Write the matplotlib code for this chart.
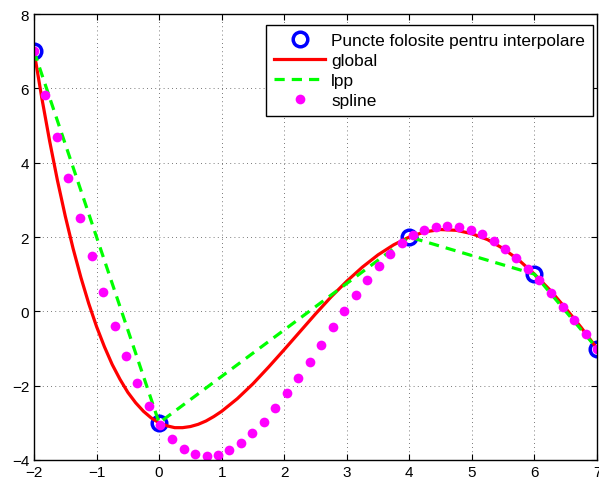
import matplotlib

matplotlib.use("Agg")
import matplotlib.pyplot as plt  # noqa: E402

plt.rcParams["font.family"] = ["Liberation Sans", "DejaVu Sans"]

# interpolation nodes
node_x = [-2, 0, 4, 6, 7]
node_y = [7, -3, 2, 1, -1]

# global polynomial
glob_x = [-2.0, -1.875, -1.75, -1.625, -1.5, -1.375, -1.25, -1.125, -1.0,
          -0.875, -0.75, -0.625, -0.5, -0.375, -0.25, -0.125, 0.0, 0.125,
          0.25, 0.375, 0.5, 0.625, 0.75, 0.875, 1.0, 1.25, 1.5, 1.75, 2.0,
          2.25, 2.5, 2.75, 3.0, 3.25, 3.5, 3.75, 4.0, 4.25, 4.5, 4.75, 5.0,
          5.25, 5.5, 5.75, 6.0, 6.25, 6.5, 6.75, 7.0]
glob_y = [7.0, 5.74, 4.58, 3.52, 2.56, 1.69, 0.91, 0.21, -0.41, -0.95,
          -1.43, -1.83, -2.18, -2.46, -2.69, -2.87, -3.0, -3.08, -3.13, -3.13,
          -3.10, -3.04, -2.95, -2.83, -2.69, -2.35, -1.95, -1.50, -1.03,
          -0.55, -0.07, 0.39, 0.81, 1.19, 1.52, 1.79, 2.0, 2.14, 2.20, 2.18,
          2.09, 1.93, 1.69, 1.38, 1.0, 0.57, 0.08, -0.44, -1.0]

# spline samples (magenta dots)
spl_x = [-2.0, -1.82, -1.63, -1.45, -1.27, -1.08, -0.9, -0.71, -0.53, -0.35,
         -0.16, 0.02, 0.2, 0.39, 0.57, 0.76, 0.94, 1.12, 1.31, 1.49, 1.67,
         1.86, 2.04, 2.22, 2.41, 2.59, 2.78, 2.96, 3.14, 3.33, 3.51, 3.69,
         3.88, 4.06, 4.24, 4.43, 4.61, 4.8, 4.98, 5.16, 5.35, 5.53, 5.71,
         5.9, 6.08, 6.27, 6.45, 6.63, 6.82, 7.0]
spl_y = [7.0, 5.82, 4.70, 3.58, 2.51, 1.48, 0.51, -0.40, -1.21, -1.93, -2.55,
         -3.05, -3.43, -3.70, -3.85, -3.90, -3.87, -3.74, -3.54, -3.28, -2.97,
         -2.61, -2.21, -1.80, -1.35, -0.90, -0.42, 0.01, 0.44, 0.85, 1.22,
         1.55, 1.83, 2.05, 2.19, 2.28, 2.30, 2.27, 2.20, 2.08, 1.90, 1.69,
         1.43, 1.15, 0.84, 0.49, 0.13, -0.22, -0.62, -1.0]

fig = plt.figure(figsize=(5.99, 4.85), dpi=100)
ax = fig.add_axes([34 / 599, 24 / 485, 563 / 599, 446 / 485])

ax.plot(node_x, node_y, "o", color="blue", mfc="none", ms=10.5, mew=2.5,
        label="Puncte folosite pentru interpolare")
ax.plot(glob_x, glob_y, "-", color="red", lw=2.3, label="global")
ax.plot(node_x, node_y, "--", color="#00ff00", lw=2.3, dashes=(3.2, 2.2),
        label="lpp")
ax.plot(spl_x, spl_y, "o", color="magenta", ms=7, mec="none",
        label="spline")

ax.set_xlim(-2, 7)
ax.set_ylim(-4, 8)
ax.set_xticks(range(-2, 8))
ax.set_yticks(range(-4, 9, 2))
ax.grid(True, color="black", linestyle=(0, (1, 4)), linewidth=0.6, alpha=0.7)
ax.tick_params(direction="in", top=True, right=True, labelsize=11, length=4)
for s in ax.spines.values():
    s.set_linewidth(1.0)

leg = ax.legend(loc="upper right", fontsize=12.4, fancybox=False,
                framealpha=1, edgecolor="black", borderpad=0.45,
                handlelength=3.0, handletextpad=0.35, labelspacing=0.3,
                bbox_to_anchor=(593 / 599, (485 - 26) / 485),
                bbox_transform=fig.transFigure, borderaxespad=0)
leg.get_frame().set_linewidth(1.0)

fig.savefig("out.png", dpi=100)
